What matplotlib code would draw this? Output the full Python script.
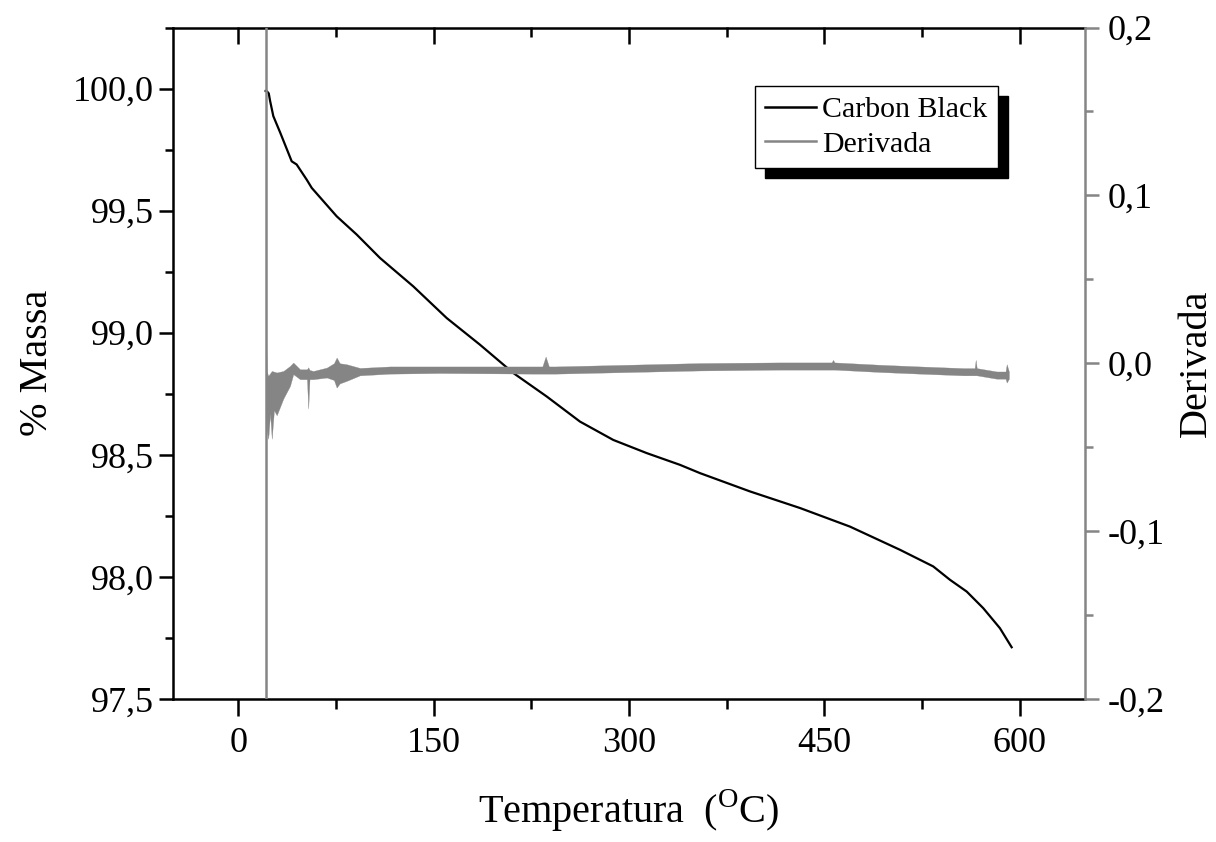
import matplotlib
matplotlib.use("Agg")
import matplotlib.pyplot as plt
from matplotlib.ticker import MultipleLocator, FuncFormatter

plt.rcParams['font.family'] = ['Liberation Serif', 'DejaVu Serif']
plt.rcParams['mathtext.fontset'] = 'custom'
plt.rcParams['mathtext.rm'] = 'Liberation Serif'

# ---- data ----
mass_T = [21.1, 21.9, 23.5, 24.5, 27.0, 32.4, 41.1, 44.9, 52.6, 56.5, 75.6, 91.0,
          108.9, 117.9, 134.4, 160.1, 185.6, 211.2, 236.8, 262.4, 287.9, 313.6,
          339.1, 354.5, 392.9, 431.3, 469.6, 508.0, 533.5, 546.4, 559.2, 571.9,
          584.7, 593.7]
mass_v = [99.99, 99.99, 99.98, 99.95, 99.887, 99.818, 99.702, 99.689, 99.627,
          99.593, 99.477, 99.402, 99.306, 99.265, 99.190, 99.060, 98.951, 98.835,
          98.739, 98.636, 98.561, 98.507, 98.459, 98.425, 98.350, 98.282, 98.206,
          98.111, 98.043, 97.988, 97.940, 97.872, 97.790, 97.712]

deriv_spike_T = [21.1, 21.1]
deriv_spike_v = [0.25, -0.25]

deriv_T = [21.5, 22.0, 23.1, 24.5, 25.8, 27.5, 29.6, 34.7, 39.8, 42.3, 47.5, 52.8,
           53.8, 54.8, 57.7, 68.0, 73.5, 75.6, 78.0, 83.3, 93.5, 116.6, 154.9,
           226.3, 233.5, 236.0, 238.5, 243.2, 354.5, 415.9, 455.5, 456.6, 457.7,
           492.6, 523.3, 556.6, 565.3, 566.1, 566.9, 582.2, 589.0, 589.9, 591.6]
deriv_lo = [-0.020, -0.040, -0.045, -0.030, -0.045, -0.028, -0.031, -0.021, -0.0135,
            -0.0065, -0.0095, -0.0095, -0.027, -0.0095, -0.0095, -0.0085, -0.010,
            -0.0145, -0.012, -0.0105, -0.0072, -0.0062, -0.0058, -0.0062, -0.0062,
            -0.0062, -0.0062, -0.0062, -0.0043, -0.0038, -0.0038, -0.0038, -0.0038,
            -0.0052, -0.0062, -0.0072, -0.0072, -0.0072, -0.0072, -0.0092, -0.0092,
            -0.0115, -0.0092]
deriv_hi = [0.017, -0.005, -0.0075, -0.006, -0.0046, -0.005, -0.0055, -0.0046,
            -0.0016, 0.0004, -0.0036, -0.0036, -0.0024, -0.0040, -0.0046, -0.0026,
            0.000, 0.0034, 0.000, -0.0006, -0.0028, -0.0019, -0.0019, -0.0019,
            -0.0019, 0.004, -0.0019, -0.0019, 0.0001, 0.0005, 0.0005, 0.0020,
            0.0005, -0.0009, -0.0019, -0.0029, -0.0029, 0.002, -0.0029, -0.0049,
            -0.0049, -0.0006, -0.005]

x_ticks = [0, 150, 300, 450, 600]
left_ticks = [97.5, 98.0, 98.5, 99.0, 99.5, 100.0]
right_ticks = [-0.2, -0.1, 0.0, 0.1, 0.2]

GRAY = '#858585'

fig = plt.figure(figsize=(12.16, 8.42), dpi=100)
ax = fig.add_axes([173/1216, 1 - 699/842, 912/1216, 671.5/842])
ax2 = ax.twinx()

ln1, = ax.plot(mass_T, mass_v, color='black', lw=1.6, zorder=3, label='Carbon Black')
ln2, = ax2.plot(deriv_spike_T, deriv_spike_v, color=GRAY, lw=1.8, label='Derivada')
ax2.fill_between(deriv_T, deriv_lo, deriv_hi, color=GRAY, lw=0.2, edgecolor=GRAY)

ax.set_xlim(-50, 650)
ax.set_ylim(97.5, 100.25)
ax2.set_ylim(-0.2, 0.2)

comma = lambda fmt: FuncFormatter(lambda v, p: (fmt % v).replace('.', ','))

ax.set_xticks(x_ticks)
ax.xaxis.set_minor_locator(MultipleLocator(75))
ax.set_yticks(left_ticks)
ax.yaxis.set_minor_locator(MultipleLocator(0.25))
ax.yaxis.set_major_formatter(comma('%.1f'))
ax2.set_yticks(right_ticks)
ax2.yaxis.set_minor_locator(MultipleLocator(0.05))
ax2.yaxis.set_major_formatter(FuncFormatter(lambda v, p: ('%.1f' % v).replace('.', ',').replace('-0,0', '0,0')))

ax.tick_params(axis='x', which='major', direction='out', length=12, width=1.8,
               labelsize=26, pad=8, top=False)
ax.tick_params(axis='x', which='minor', direction='out', length=7, width=1.8, top=False)
ax.tick_params(axis='y', which='major', direction='out', length=10, width=1.8,
               labelsize=26, pad=4, right=False)
ax.tick_params(axis='y', which='minor', direction='out', length=6, width=1.8, right=False)
ax2.tick_params(axis='y', which='major', direction='out', length=10, width=1.8,
                color=GRAY, labelsize=26, pad=6, left=False)
ax2.tick_params(axis='y', which='minor', direction='out', length=6, width=1.8,
                color=GRAY, left=False)

# top inward ticks
secx = ax.secondary_xaxis('top')
secx.set_xticks(x_ticks)
secx.xaxis.set_minor_locator(MultipleLocator(75))
secx.tick_params(axis='x', which='major', direction='in', length=12, width=1.8, labeltop=False)
secx.tick_params(axis='x', which='minor', direction='in', length=7, width=1.8)
secx.spines['top'].set_visible(False)

for s in ['left', 'bottom', 'top']:
    ax.spines[s].set_linewidth(1.8)
ax.spines['right'].set_visible(False)
for s in ['left', 'bottom', 'top']:
    ax2.spines[s].set_visible(False)
ax2.spines['right'].set_color(GRAY)
ax2.spines['right'].set_linewidth(1.8)

ax.set_xlabel(r'Temperatura  ($^{\mathrm{O}}$C)', fontsize=29, labelpad=20)
ax.set_ylabel('% Massa', fontsize=29, labelpad=12)
ax2.set_ylabel('Derivada', fontsize=29, labelpad=10)

leg = ax2.legend([ln1, ln2], ['Carbon Black', 'Derivada'], loc='upper left',
                 bbox_to_anchor=(0.638, 0.913), borderaxespad=0, fontsize=21.5,
                 frameon=True, fancybox=False, handlelength=1.7, handletextpad=0.2,
                 labelspacing=0.25, borderpad=0.35,
                 shadow={'ox': 7.2, 'oy': -7.2, 'facecolor': 'black',
                         'edgecolor': 'black', 'alpha': 1.0})
leg.get_frame().set_edgecolor('black')
leg.get_frame().set_linewidth(1.0)
for h in leg.get_lines():
    h.set_linewidth(1.8)

fig.savefig('out.png', dpi=100)
